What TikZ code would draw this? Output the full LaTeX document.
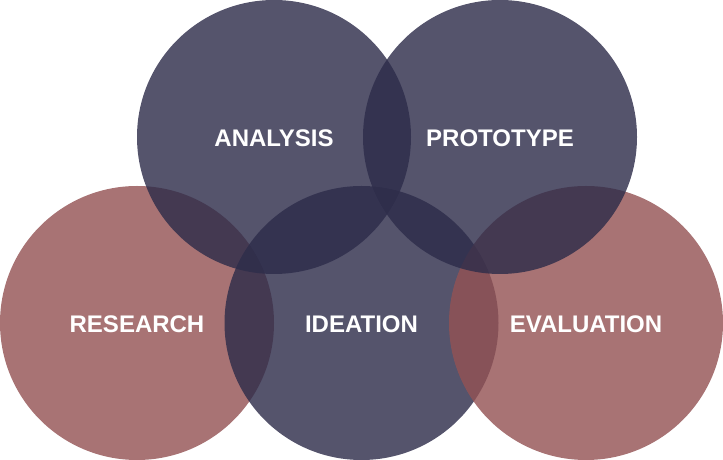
\documentclass[tikz,border=0pt]{standalone}
\usepackage{fontspec}
\setmainfont{Liberation Sans}
\begin{document}
\definecolor{slate}{RGB}{45,44,74}
\definecolor{rosewood}{RGB}{148,83,84}
\begin{tikzpicture}[x=1pt,y=1pt,
  phase/.style={circle,minimum size=274pt,inner sep=0pt,fill opacity=0.81,text opacity=1},
  darkphase/.style={phase,fill=slate},
  redphase/.style={phase,fill=rosewood},
  lbl/.style={text=white,font=\fontsize{24}{28}\selectfont\bfseries,yshift=-1.5pt}]
\useasboundingbox (0,0) rectangle (723,460);
% lower row first, then the upper row on top
\node[redphase]  (research)   at (137,137)   {};
\node[darkphase] (ideation)   at (361.5,137) {};
\node[redphase]  (evaluation) at (586,137)   {};
\node[darkphase] (analysis)   at (274,323)   {};
\node[darkphase] (prototype)  at (500,323)   {};
% labels
\node[lbl] at (research.center)   {RESEARCH};
\node[lbl] at (ideation.center)   {IDEATION};
\node[lbl] at (evaluation.center) {EVALUATION};
\node[lbl] at (analysis.center)   {ANALYSIS};
\node[lbl] at (prototype.center)  {PROTOTYPE};
\end{tikzpicture}
\end{document}
